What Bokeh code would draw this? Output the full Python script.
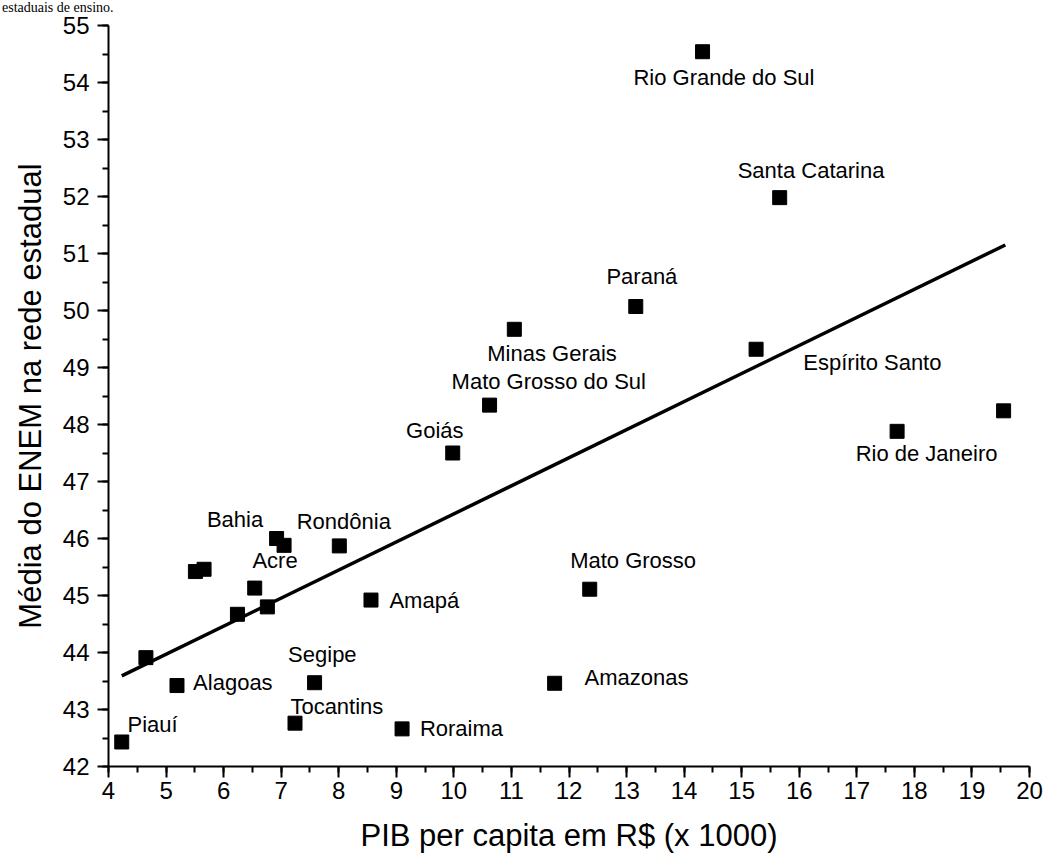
from bokeh.plotting import figure
from bokeh.models import Range1d, SingleIntervalTicker, ColumnDataSource, Div
from bokeh.layouts import column
from bokeh.core.properties import value
from bokeh.embed import file_html
from bokeh.resources import INLINE

# PIB per capita (R$ x 1000) and ENEM mean
pib = [4.23, 4.65, 5.19, 5.51, 5.66, 6.24, 6.54, 6.76, 6.92, 7.05, 8.01, 8.56,
       7.58, 7.24, 9.10, 9.98, 10.62, 11.05, 13.16, 12.36, 11.75, 14.32, 15.66,
       15.25, 17.70, 19.55]
enem = [42.43, 43.91, 43.42, 45.42, 45.46, 44.67, 45.13, 44.80, 46.00, 45.88,
        45.87, 44.92, 43.47, 42.76, 42.66, 47.50, 48.34, 49.67, 50.07, 45.11,
        43.46, 54.54, 51.98, 49.32, 47.88, 48.24]

# fitted line end points
fit_x = [4.23, 19.58]
fit_y = [43.59, 51.15]

# state labels and their anchor positions (left edge, middle)
label_names = ["Rio Grande do Sul", "Santa Catarina", "Paraná", "Minas Gerais",
               "Mato Grosso do Sul", "Goiás", "Espírito Santo", "Rio de Janeiro",
               "Mato Grosso", "Amazonas", "Bahia", "Rondônia", "Acre", "Amapá",
               "Segipe", "Alagoas", "Tocantins", "Roraima", "Piauí"]
label_x = [13.12, 14.93, 12.65, 10.58, 9.96, 9.17, 16.07, 16.98, 12.02, 12.27,
           5.71, 7.27, 6.50, 8.88, 7.12, 5.47, 7.16, 9.41, 4.33]
label_y = [54.08, 52.45, 50.59, 49.25, 48.75, 47.89, 49.08, 47.49, 45.61, 43.56,
           46.34, 46.30, 45.61, 44.92, 43.97, 43.47, 43.06, 42.67, 42.73]

x_title = "PIB per capita em R$ (x 1000)"
y_title = "Média do ENEM na rede estadual"
top_text = "estaduais de ensino."

p = figure(width=1046, height=853, output_backend="svg", toolbar_location=None,
           x_range=Range1d(4, 20), y_range=Range1d(42, 55),
           min_border_left=108, min_border_right=17, min_border_top=13,
           min_border_bottom=99)
p.outline_line_color = None
p.xgrid.visible = False
p.ygrid.visible = False
p.background_fill_color = "white"
p.border_fill_color = "white"

for ax, tick in ((p.xaxis[0], SingleIntervalTicker(interval=1, num_minor_ticks=2)),
                 (p.yaxis[0], SingleIntervalTicker(interval=1, num_minor_ticks=2))):
    ax.ticker = tick
    ax.axis_line_width = 2
    ax.axis_line_color = "black"
    ax.major_tick_line_width = 2
    ax.minor_tick_line_width = 2
    ax.major_tick_line_color = "black"
    ax.minor_tick_line_color = "black"
    ax.major_tick_out = 11
    ax.major_tick_in = 0
    ax.minor_tick_out = 6
    ax.minor_tick_in = 0
    ax.major_label_text_font = "Liberation Sans"
    ax.major_label_text_font_size = "24px"
    ax.major_label_text_color = "black"
    ax.axis_label_text_font = "Liberation Sans"
    ax.axis_label_text_font_size = "31px"
    ax.axis_label_text_font_style = "normal"
    ax.axis_label_text_color = "black"

p.xaxis.axis_label = x_title
p.yaxis.axis_label = y_title
p.xaxis.major_label_standoff = 4
p.yaxis.major_label_standoff = 8
p.xaxis.axis_label_standoff = 16
p.yaxis.axis_label_standoff = 12

p.line(fit_x, fit_y, line_width=3.5, line_color="black")
p.scatter(pib, enem, marker="square", size=14, fill_color="black", line_color="black")

src = ColumnDataSource(dict(x=label_x, y=label_y, t=label_names))
p.text(x="x", y="y", text="t", source=src, text_font=value("Liberation Sans"),
       text_font_size="22px", text_align="left", text_baseline="middle",
       text_color="black")

top = Div(text='<span style="font-family:\'Liberation Serif\';font-size:14px;'
               'line-height:12px;color:black">' + top_text + '</span>',
          width=300, height=12, margin=(0, 0, 0, 2))

layout = column(top, p, spacing=0)

open("out.html", "w").write(file_html(layout, INLINE))
